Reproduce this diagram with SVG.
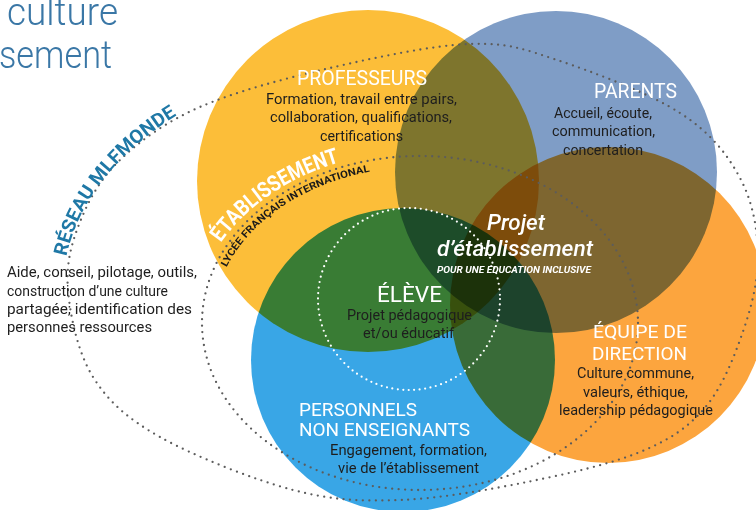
<svg xmlns="http://www.w3.org/2000/svg" width="756" height="510" viewBox="0 0 756 510">
<defs>
<style>
.c{mix-blend-mode:multiply}
.h{font-family:Roboto,"Liberation Sans",sans-serif;font-size:20px;fill:#fff}
.b{font-family:Roboto,"Liberation Sans",sans-serif;font-size:15.5px;fill:#1e1e1e}
.l{font-family:Roboto,"Liberation Sans",sans-serif;font-size:14.5px;fill:#1e1e1e}
.dot{fill:none;stroke:#5c5c5c;stroke-width:2.3;stroke-linecap:round;stroke-dasharray:0 6.5}
.wdot{fill:none;stroke:#fff;stroke-width:2.2;stroke-linecap:round;stroke-dasharray:0 5.5}
</style>
<path id="pReseau" d="M64.3,269.3 A355,238 0 0 1 214.4,95"/>
<path id="pEtab" d="M216.1,250.3 A225,172 0 0 1 380.9,153.6"/>
<path id="pLycee" d="M223.1,274.8 A207,156 0 0 1 391.2,168.5"/>
</defs>
<rect x="0" y="0" width="756" height="510" fill="#fff"/>

<g id="title">
<text x="7" y="25" textLength="111" lengthAdjust="spacingAndGlyphs" style="font-family:Roboto,'Liberation Sans',sans-serif;font-weight:300;font-size:38px;fill:#3a77a6">culture</text>
<text x="-1" y="68" textLength="113" lengthAdjust="spacingAndGlyphs" style="font-family:Roboto,'Liberation Sans',sans-serif;font-weight:300;font-size:38px;fill:#3a77a6">sement</text>
</g>

<g id="circles">
<circle class="c" cx="368" cy="181" r="171" fill="#fcbe39"/>
<circle class="c" cx="556" cy="172" r="161" fill="#7f9dc6"/>
<circle class="c" cx="608" cy="305" r="158" fill="#fca53e"/>
<circle class="c" cx="403" cy="360" r="152" fill="#39a6e6"/>
</g>

<g id="reseau">
<path class="dot" d="M68,290 C70.2,315.8 77.7,352.5 93,377 C108.3,401.5 126.7,418.2 160,437 C193.3,455.8 253,479.5 293,490 C333,500.5 361,501.3 400,500 C439,498.7 487,490 527,482 C567,474 610.7,464 640,452 C669.3,440 686.3,428.7 703,410 C719.7,391.3 730.8,365.3 740,340 C749.2,314.7 758,285 758,258 C758,231 753,202.2 740,178 C727,153.8 710.5,132.7 680,113 C649.5,93.3 592,71.5 557,60 C522,48.5 507.8,42.7 470,44 C432.2,45.3 375,57.5 330,68 C285,78.5 235,91.7 200,107 C165,122.3 140,140.8 120,160 C100,179.2 88.7,200.3 80,222 C71.3,243.7 65.8,264.2 68,290 Z"/>
<text style="font-family:Roboto,'Liberation Sans',sans-serif;font-weight:700;font-size:19px;fill:#1f78a6"><textPath href="#pReseau" startOffset="13" textLength="184" lengthAdjust="spacingAndGlyphs">RÉSEAU MLFMONDE</textPath></text>
<text class="l" x="7" y="277" textLength="190" lengthAdjust="spacingAndGlyphs">Aide, conseil, pilotage, outils,</text>
<text class="l" x="7" y="296" textLength="161" lengthAdjust="spacingAndGlyphs">construction d’une culture</text>
<text class="l" x="7" y="314" textLength="185" lengthAdjust="spacingAndGlyphs">partagée; identification des</text>
<text class="l" x="7" y="332" textLength="145" lengthAdjust="spacingAndGlyphs">personnes ressources</text>
</g>

<g id="etablissement">
<ellipse class="dot" cx="420" cy="323" rx="218" ry="167"/>
<text style="font-family:Roboto,'Liberation Sans',sans-serif;font-weight:700;font-size:22px;fill:#fff"><textPath href="#pEtab" startOffset="9" textLength="146" lengthAdjust="spacingAndGlyphs">ÉTABLISSEMENT</textPath></text>
<text style="font-family:Roboto,'Liberation Sans',sans-serif;font-weight:700;font-size:10px;fill:#1a1a1a"><textPath href="#pLycee" startOffset="8.5" textLength="178" lengthAdjust="spacingAndGlyphs">LYCÉE FRANÇAIS INTERNATIONAL</textPath></text>
</g>

<g id="professeurs">
<text class="h" x="362" y="85" text-anchor="middle" textLength="130" lengthAdjust="spacingAndGlyphs">PROFESSEURS</text>
<text class="b" x="361.5" y="104" text-anchor="middle" textLength="191" lengthAdjust="spacingAndGlyphs">Formation, travail entre pairs,</text>
<text class="b" x="361" y="122" text-anchor="middle" textLength="182" lengthAdjust="spacingAndGlyphs">collaboration, qualifications,</text>
<text class="b" x="361.5" y="141" text-anchor="middle" textLength="83" lengthAdjust="spacingAndGlyphs">certifications</text>
</g>

<g id="parents">
<text class="h" x="635.5" y="98" text-anchor="middle" textLength="83" lengthAdjust="spacingAndGlyphs">PARENTS</text>
<text class="b" x="603" y="118" text-anchor="middle" textLength="98" lengthAdjust="spacingAndGlyphs">Accueil, écoute,</text>
<text class="b" x="603.5" y="136" text-anchor="middle" textLength="103" lengthAdjust="spacingAndGlyphs">communication,</text>
<text class="b" x="603" y="155" text-anchor="middle" textLength="80" lengthAdjust="spacingAndGlyphs">concertation</text>
</g>

<g id="projet">
<text x="516" y="230" text-anchor="middle" textLength="58" lengthAdjust="spacingAndGlyphs" style="font-family:Roboto,'Liberation Sans',sans-serif;font-style:italic;font-weight:500;font-size:22px;fill:#fff">Projet</text>
<text x="515" y="256" text-anchor="middle" textLength="156" lengthAdjust="spacingAndGlyphs" style="font-family:Roboto,'Liberation Sans',sans-serif;font-style:italic;font-weight:500;font-size:22px;fill:#fff">d’établissement</text>
<text x="514" y="273" text-anchor="middle" textLength="154" lengthAdjust="spacingAndGlyphs" style="font-family:Roboto,'Liberation Sans',sans-serif;font-style:italic;font-weight:700;font-size:9.5px;fill:#fff">POUR UNE ÉDUCATION INCLUSIVE</text>
</g>

<g id="eleve">
<circle class="wdot" cx="409" cy="299" r="91"/>
<text class="h" x="409.5" y="302" text-anchor="middle" textLength="65" lengthAdjust="spacingAndGlyphs" style="font-size:22px">ÉLÈVE</text>
<text class="b" x="409.5" y="320" text-anchor="middle" textLength="125" lengthAdjust="spacingAndGlyphs">Projet pédagogique</text>
<text class="b" x="408.5" y="338" text-anchor="middle" textLength="91" lengthAdjust="spacingAndGlyphs">et/ou éducatif</text>
</g>

<g id="personnels">
<text class="h" x="299" y="416" textLength="118" lengthAdjust="spacingAndGlyphs" style="font-size:18px">PERSONNELS</text>
<text class="h" x="299" y="436" textLength="171" lengthAdjust="spacingAndGlyphs" style="font-size:18px">NON ENSEIGNANTS</text>
<text class="b" x="408.5" y="455" text-anchor="middle" textLength="157" lengthAdjust="spacingAndGlyphs">Engagement, formation,</text>
<text class="b" x="408.5" y="473" text-anchor="middle" textLength="141" lengthAdjust="spacingAndGlyphs">vie de l’établissement</text>
</g>

<g id="direction">
<text class="h" x="640" y="338" text-anchor="middle" textLength="94" lengthAdjust="spacingAndGlyphs" style="font-size:18px">ÉQUIPE DE</text>
<text class="h" x="639.5" y="360" text-anchor="middle" textLength="95" lengthAdjust="spacingAndGlyphs" style="font-size:18px">DIRECTION</text>
<text class="b" x="635.5" y="378" text-anchor="middle" textLength="117" lengthAdjust="spacingAndGlyphs">Culture commune,</text>
<text class="b" x="635.5" y="397" text-anchor="middle" textLength="105" lengthAdjust="spacingAndGlyphs">valeurs, éthique,</text>
<text class="b" x="636" y="415" text-anchor="middle" textLength="154" lengthAdjust="spacingAndGlyphs">leadership pédagogique</text>
</g>
</svg>
